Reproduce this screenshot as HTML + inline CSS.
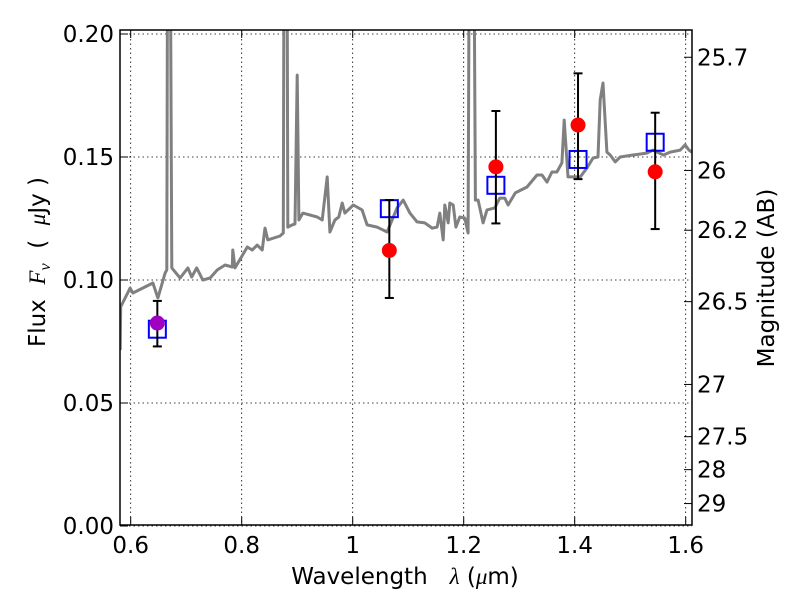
<!DOCTYPE html>
<html><head><meta charset="utf-8"><style>
html,body{margin:0;padding:0;background:#fff;}
svg{display:block;font-family:"DejaVu Sans","Liberation Sans",sans-serif;}
</style></head><body>
<svg id="chart" width="800" height="600" viewBox="0 0 800 600" xmlns="http://www.w3.org/2000/svg">
<defs><clipPath id="clip"><rect x="120" y="30" width="572" height="495"/></clipPath></defs>
<rect x="0" y="0" width="800" height="600" fill="#fff"/>
<g id="grid"></g>
<g id="spec" clip-path="url(#clip)"></g>
<g id="marks" clip-path="url(#clip)"></g>
<rect x="120" y="30" width="572" height="495" fill="none" stroke="#000" stroke-width="1.5"/>
<g id="ticks"></g>
<text x="405" y="584" font-size="23" text-anchor="middle">Wavelength&#160;&#160;&#160;<tspan font-family="Liberation Serif, serif" font-style="italic">λ</tspan>&#160;(<tspan font-family="Liberation Serif, serif" font-style="italic">μ</tspan>m)</text>
<text transform="translate(45,262) rotate(-90)" font-size="23" text-anchor="middle">Flux&#160;&#160;<tspan font-family="Liberation Serif, serif" font-style="italic">F</tspan><tspan font-family="Liberation Serif, serif" font-style="italic" font-size="16" dy="5">ν</tspan><tspan dy="-5">&#160;&#160;(&#160;&#160;</tspan><tspan font-family="Liberation Serif, serif" font-style="italic">μ</tspan>Jy&#160;)</text>
<text transform="translate(774,278) rotate(-90)" font-size="23" text-anchor="middle">Magnitude (AB)</text>
</svg>
<script>
const specWave=[0.581,0.582,0.599,0.604,0.640,0.649,0.662,0.665,0.667,0.670,0.674,0.689,0.703,0.710,0.719,0.730,0.743,0.756,0.770,0.783,0.784,0.788,0.810,0.819,0.828,0.837,0.842,0.847,0.869,0.875,0.877,0.881,0.883,0.891,0.896,0.900,0.903,0.910,0.936,0.945,0.954,0.959,0.968,0.975,0.981,0.986,1.001,1.017,1.026,1.044,1.062,1.080,1.091,1.103,1.116,1.130,1.143,1.152,1.157,1.163,1.166,1.172,1.175,1.181,1.186,1.193,1.202,1.208,1.211,1.217,1.221,1.226,1.235,1.242,1.256,1.265,1.274,1.280,1.293,1.314,1.332,1.341,1.350,1.359,1.368,1.377,1.381,1.388,1.410,1.422,1.433,1.442,1.446,1.451,1.458,1.464,1.473,1.482,1.505,1.530,1.541,1.560,1.572,1.590,1.599,1.606,1.611];
const specFlux=[0.0715,0.0891,0.0967,0.0947,0.0988,0.0927,0.1028,0.1041,0.30,0.30,0.1049,0.1008,0.1049,0.1012,0.1049,0.1000,0.1008,0.1041,0.1061,0.1053,0.1122,0.1049,0.1134,0.1122,0.1142,0.1122,0.1211,0.1163,0.1179,0.1191,0.30,0.30,0.1215,0.1224,0.1228,0.1833,0.1244,0.1272,0.1256,0.1244,0.1419,0.1195,0.1244,0.1256,0.1313,0.1272,0.1305,0.1285,0.1224,0.1215,0.1195,0.1293,0.1325,0.1272,0.1236,0.1232,0.1211,0.1215,0.1272,0.1163,0.1305,0.1232,0.1313,0.1305,0.1215,0.1256,0.1252,0.1191,0.30,0.30,0.1325,0.1325,0.1232,0.1285,0.1293,0.1333,0.1333,0.1305,0.1354,0.1378,0.1427,0.1427,0.1398,0.1439,0.1439,0.1476,0.1650,0.1419,0.1419,0.1455,0.1496,0.1500,0.1732,0.1801,0.1520,0.1508,0.1480,0.1500,0.1508,0.1516,0.1528,0.1508,0.1520,0.1528,0.1549,0.1528,0.1520];
const photWave=[0.648,1.066,1.258,1.406,1.545];
const photFlux=[0.0825,0.112,0.146,0.163,0.144];
const errLow=[0.073,0.0927,0.123,0.141,0.1207];
const errHigh=[0.0915,0.1325,0.1687,0.184,0.168];
const modelFlux=[0.080,0.129,0.1385,0.149,0.156];
const xTicks=[0.6,0.8,1.0,1.2,1.4,1.6];
const xTickLabels=["0.6","0.8","1","1.2","1.4","1.6"];
const yTicks=[0,0.05,0.10,0.15,0.20];
const yTickLabels=["0.00","0.05","0.10","0.15","0.20"];
const magTicks=[25.7,26,26.2,26.5,27,27.5,28,29];
const magTickLabels=["25.7","26","26.2","26.5","27","27.5","28","29"];

const NS="http://www.w3.org/2000/svg";
const X=v=>130.7+(v-0.6)*555;
const Y=v=>526-v*2460;
const mag2flux=m=>Math.pow(10,-0.4*(m-23.9));
function mk(tag,attrs,parent){const e=document.createElementNS(NS,tag);for(const k in attrs)e.setAttribute(k,attrs[k]);parent.appendChild(e);return e;}

const grid=document.getElementById('grid'),ticks=document.getElementById('ticks');
xTicks.forEach((v,i)=>{
  const g=mk('line',{x1:X(v),x2:X(v),y1:30,y2:525,stroke:'#000','stroke-width':0.8,'stroke-dasharray':'1.5,3'},grid);
  
  
  mk('line',{x1:X(v),x2:X(v),y1:525,y2:517,stroke:'#000','stroke-width':1},ticks);
  mk('line',{x1:X(v),x2:X(v),y1:30,y2:38,stroke:'#000','stroke-width':1},ticks);
  const t=mk('text',{x:X(v),y:553,'font-size':23,'text-anchor':'middle'},ticks);
  t.textContent=xTickLabels[i];
  
  
});
yTicks.forEach((v,i)=>{
  const g=mk('line',{x1:120,x2:692,y1:Y(v),y2:Y(v),stroke:'#000','stroke-width':0.8,'stroke-dasharray':'1.5,3'},grid);
  
  
  mk('line',{x1:120,x2:128,y1:Y(v),y2:Y(v),stroke:'#000','stroke-width':1},ticks);
  const t=mk('text',{x:114,y:Y(v)+8,'font-size':23,'text-anchor':'end'},ticks);
  t.textContent=yTickLabels[i];
  
  
});
magTicks.forEach((m,i)=>{
  const y=Y(mag2flux(m));
  mk('line',{x1:684,x2:692,y1:y,y2:y,stroke:'#000','stroke-width':1},ticks);
  const t=mk('text',{x:697,y:y+8,'font-size':23},ticks);
  t.textContent=magTickLabels[i];
  
  
});

const spec=document.getElementById('spec');
const pts=specWave.map((w,i)=>X(w).toFixed(1)+','+Y(specFlux[i]).toFixed(1)).join(' ');
const pl=mk('polyline',{points:pts,fill:'none',stroke:'#808080','stroke-width':3,'stroke-linejoin':'round'},spec);



const marks=document.getElementById('marks');
photWave.forEach((w,i)=>{
  const x=X(w);
  const sq=mk('rect',{x:x-8.5,y:Y(modelFlux[i])-8.5,width:17,height:17,fill:'none',stroke:'#0000ff','stroke-width':2},marks);
  
  
  const eb=mk('g',{stroke:'#000','stroke-width':2},marks);
  
  
  mk('line',{x1:x,x2:x,y1:Y(errLow[i]),y2:Y(errHigh[i])},eb);
  mk('line',{x1:x-4.5,x2:x+4.5,y1:Y(errLow[i]),y2:Y(errLow[i])},eb);
  mk('line',{x1:x-4.5,x2:x+4.5,y1:Y(errHigh[i]),y2:Y(errHigh[i])},eb);
  const c=mk('circle',{cx:x,cy:Y(photFlux[i]),r:7.5,fill:i===0?'#a000c0':'#ff0000'},marks);
  
  
});
</script>
</body></html>
